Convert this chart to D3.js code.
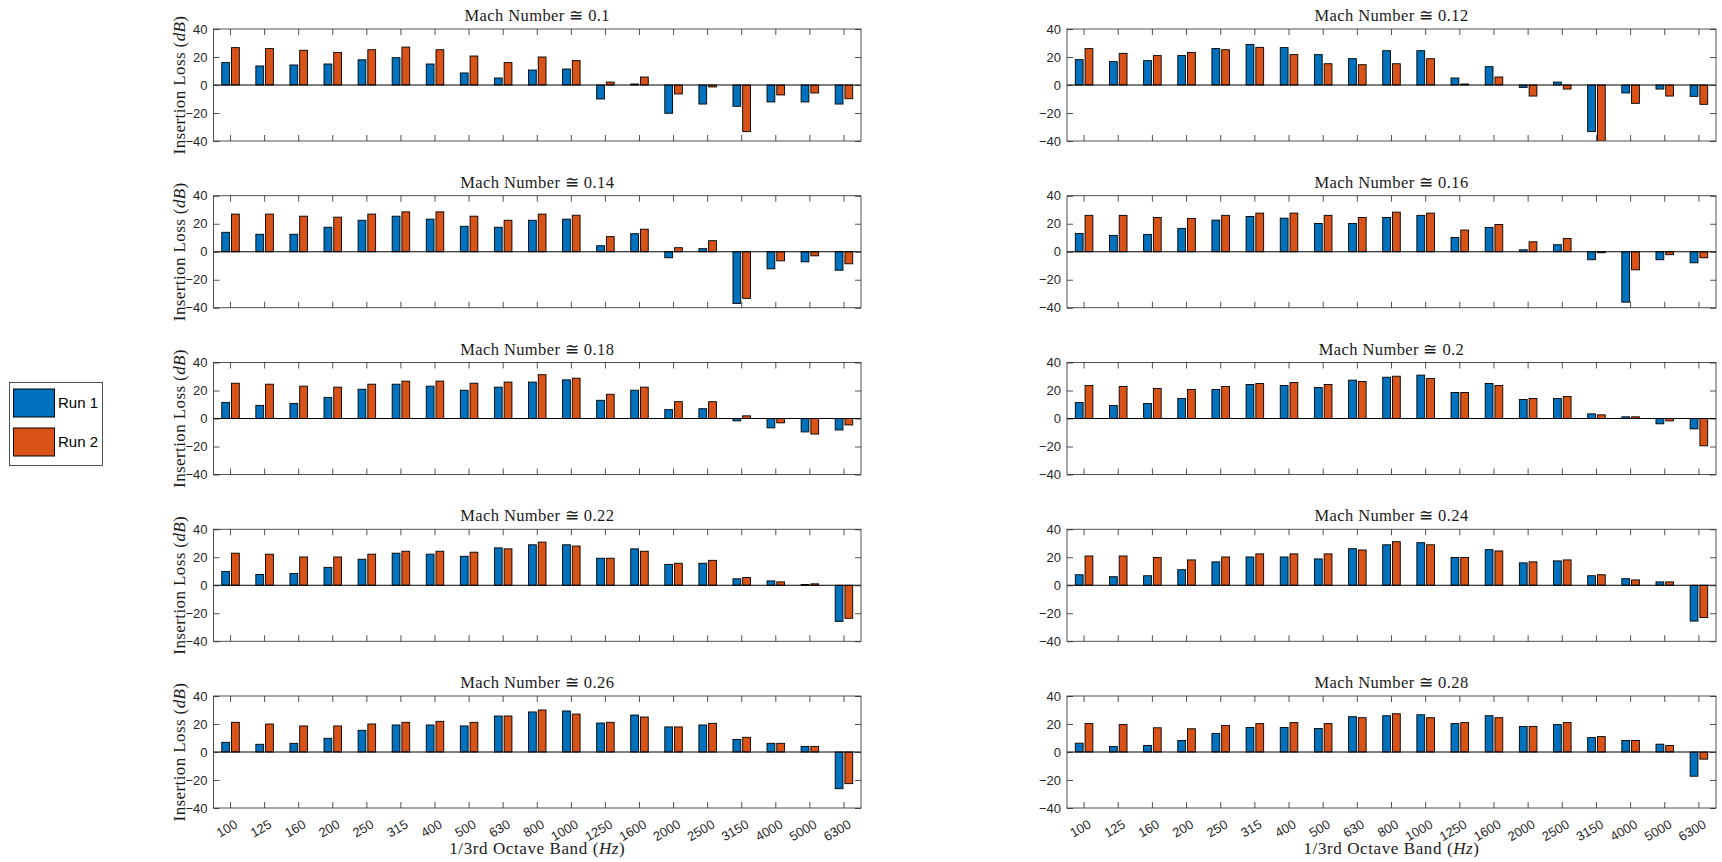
<!DOCTYPE html>
<html>
<head>
<meta charset="utf-8">
<script src="https://cdn.jsdelivr.net/npm/d3@7"></script>
<style>
  html, body { margin: 0; padding: 0; background: #fff; }
  svg { display: block; }
</style>
</head>
<body>
<script>
// 1/3-octave band centre frequencies (Hz)
const bands = ["100","125","160","200","250","315","400","500","630","800",
               "1000","1250","1600","2000","2500","3150","4000","5000","6300"];

// Mach number of each test condition, one panel each
const machNumbers = ["0.1","0.12","0.14","0.16","0.18","0.2","0.22","0.24","0.26","0.28"];

const seriesNames = ["Run 1", "Run 2"];
const yTicks = [-40, -20, 0, 20, 40];

// Insertion loss (dB), Run 1, one row per Mach number
const run1 = [
  [16.0, 13.6, 14.3, 15.0, 18.0, 19.5, 15.0, 8.6, 5.0, 10.7, 11.4, -10.0, 0.7, -20.2, -13.6, -15.2, -12.1, -12.1, -13.6],
  [18.1, 16.7, 17.4, 21.0, 26.0, 29.0, 26.7, 21.7, 18.8, 24.5, 24.5, 5.0, 13.1, -1.7, 2.1, -33.3, -5.7, -2.9, -8.1],
  [13.9, 12.5, 12.5, 17.5, 22.5, 25.4, 23.3, 18.2, 17.5, 22.5, 23.3, 4.3, 12.9, -4.3, 2.2, -36.9, -12.2, -7.2, -13.2],
  [13.1, 11.7, 12.4, 16.7, 22.6, 25.2, 24.0, 20.2, 20.2, 24.5, 26.0, 10.2, 17.4, 1.4, 5.0, -5.7, -36.0, -5.7, -7.9],
  [11.5, 9.4, 10.8, 15.1, 20.9, 24.5, 23.1, 20.2, 22.4, 26.0, 27.6, 13.0, 20.2, 6.3, 7.0, -1.7, -6.7, -9.6, -8.2],
  [11.4, 9.3, 10.7, 14.3, 20.7, 24.3, 23.6, 22.1, 27.4, 29.5, 31.0, 18.6, 25.0, 13.6, 14.3, 3.3, 1.2, -3.8, -7.4],
  [9.9, 7.7, 8.4, 12.8, 18.6, 22.9, 22.2, 20.7, 26.7, 28.9, 28.9, 19.3, 26.0, 14.9, 15.7, 4.6, 3.1, 0.5, -25.8],
  [7.5, 6.1, 6.8, 11.1, 16.7, 20.2, 20.2, 18.8, 26.1, 28.9, 30.4, 19.8, 25.4, 16.0, 17.4, 6.8, 4.7, 2.4, -25.6],
  [6.9, 5.5, 6.2, 9.8, 15.5, 19.3, 19.3, 18.6, 25.7, 28.6, 29.3, 20.7, 26.4, 17.9, 19.3, 9.0, 6.2, 4.0, -26.2],
  [6.3, 4.0, 4.7, 8.2, 13.3, 17.5, 17.5, 16.8, 25.2, 25.9, 26.6, 20.3, 25.9, 18.2, 19.6, 10.3, 8.2, 5.6, -17.3]
];

// Insertion loss (dB), Run 2, one row per Mach number
const run2 = [
  [26.7, 26.0, 24.8, 23.3, 25.2, 27.1, 25.2, 20.7, 16.0, 20.0, 17.4, 2.1, 5.7, -6.4, -1.4, -33.3, -7.1, -5.7, -9.8],
  [26.0, 22.6, 21.0, 23.3, 25.2, 26.9, 21.7, 15.2, 14.5, 15.2, 18.8, 0.7, 5.7, -7.9, -2.9, -42.0, -13.1, -7.9, -13.8],
  [26.9, 26.9, 25.4, 24.7, 26.9, 28.5, 28.5, 25.4, 22.5, 26.9, 26.1, 10.8, 16.1, 2.9, 7.9, -33.3, -6.5, -2.9, -8.6],
  [26.0, 26.0, 24.5, 23.8, 26.0, 27.6, 27.6, 26.0, 24.5, 28.3, 27.6, 15.5, 19.5, 7.1, 9.5, -0.7, -12.9, -2.1, -4.3],
  [25.2, 24.5, 23.1, 22.4, 24.5, 26.7, 26.7, 25.2, 26.0, 31.3, 28.8, 17.3, 22.4, 12.0, 12.0, 1.9, -3.1, -11.1, -4.6],
  [23.6, 22.9, 21.4, 20.7, 22.9, 25.0, 25.7, 24.3, 26.4, 30.2, 28.6, 18.6, 23.6, 14.3, 15.7, 2.6, 1.2, -1.7, -19.5],
  [22.9, 22.2, 20.2, 20.2, 22.2, 24.3, 24.3, 23.6, 26.0, 30.8, 28.0, 19.3, 24.3, 15.7, 17.8, 5.5, 2.4, 1.0, -23.6],
  [20.9, 20.9, 19.8, 18.1, 20.2, 22.4, 22.4, 22.4, 25.2, 31.1, 28.9, 19.8, 24.5, 16.7, 18.1, 7.5, 3.8, 2.4, -23.1],
  [21.2, 20.0, 18.6, 18.6, 20.0, 21.2, 21.9, 21.2, 25.7, 30.0, 27.1, 21.2, 25.0, 17.9, 20.5, 10.5, 6.2, 4.0, -22.6],
  [20.3, 19.6, 17.3, 16.6, 18.9, 20.3, 21.0, 20.3, 24.5, 27.3, 24.5, 21.0, 24.5, 18.2, 21.0, 11.0, 8.2, 4.7, -5.1]
];

const colors = { "Run 1": "#0072BD", "Run 2": "#D95319" };

const W = 1722, H = 862;
const colExtent = [[213.5, 861], [1067, 1716]];
const firstTop = 29, rowStep = 166.75, plotH = 112;
const axisColor = "#262626";
const sans = "'Liberation Sans', Arial, sans-serif";
const serif = "'Liberation Serif', 'Times New Roman', serif";

const svg = d3.select("body").append("svg")
  .attr("width", W).attr("height", H)
  .style("background", "#fff");

machNumbers.forEach((mach, i) => {
  const col = i % 2, row = Math.floor(i / 2);
  const [x0, x1] = colExtent[col];
  const top = firstTop + row * rowStep;
  const bottom = top + plotH;
  const isBottomRow = row === 4;

  const x = d3.scaleBand().domain(bands).range([x0, x1]);
  const u = x.bandwidth();
  const sub = d3.scaleBand().domain(seriesNames)
    .range([-0.2857 * u, 0.2857 * u]).paddingInner(0.2).paddingOuter(0.1);
  const y = d3.scaleLinear().domain([-40, 40]).range([bottom, top]);

  const g = svg.append("g");

  // clip region for bars
  const clipId = "clip" + i;
  g.append("clipPath").attr("id", clipId)
    .append("rect").attr("x", x0).attr("y", top).attr("width", x1 - x0).attr("height", plotH);

  // bars
  const rows = bands.map((b, k) => ({ band: b, "Run 1": run1[i][k], "Run 2": run2[i][k] }));
  const barG = g.append("g").attr("clip-path", `url(#${clipId})`);
  seriesNames.forEach(s => {
    barG.selectAll(null).data(rows).enter().append("rect")
      .attr("x", d => x(d.band) + u / 2 + sub(s))
      .attr("width", sub.bandwidth())
      .attr("y", d => y(Math.max(0, d[s])))
      .attr("height", d => Math.abs(y(d[s]) - y(0)))
      .attr("fill", colors[s])
      .attr("stroke", "#000")
      .attr("stroke-width", 0.9);
  });

  // zero baseline
  g.append("line")
    .attr("x1", x0).attr("x2", x1).attr("y1", y(0)).attr("y2", y(0))
    .attr("stroke", "#000").attr("stroke-width", 1);

  // axes with inward ticks
  const yAxis = g.append("g").attr("transform", `translate(${x0},0)`)
    .call(d3.axisLeft(y).tickValues(yTicks).tickSizeInner(-6).tickSizeOuter(0).tickPadding(6));
  g.append("g").attr("transform", `translate(${x1},0)`)
    .call(d3.axisRight(y).tickValues(yTicks).tickSizeInner(-6).tickSizeOuter(0).tickFormat(""));
  g.append("g").attr("transform", `translate(0,${top})`)
    .call(d3.axisTop(x).tickSizeInner(-6).tickSizeOuter(0).tickFormat(""));
  const xAxis = g.append("g").attr("transform", `translate(0,${bottom})`)
    .call(d3.axisBottom(x).tickSizeInner(-6).tickSizeOuter(0)
      .tickFormat(isBottomRow ? (d => d) : ""));

  g.selectAll(".domain").remove();
  g.selectAll(".tick line").attr("stroke", axisColor).attr("stroke-width", 0.8);
  yAxis.selectAll("text")
    .attr("font-family", sans).attr("font-size", 13).attr("fill", axisColor);

  if (isBottomRow) {
    xAxis.selectAll("text")
      .attr("font-family", sans).attr("font-size", 13).attr("fill", axisColor)
      .attr("text-anchor", "end")
      .attr("x", 0).attr("y", 0).attr("dy", 0)
      .attr("transform", "translate(8,19) rotate(-30)");
  }

  // axes frame
  g.append("rect")
    .attr("x", x0).attr("y", top).attr("width", x1 - x0).attr("height", plotH)
    .attr("fill", "none").attr("stroke", axisColor).attr("stroke-width", 0.8);

  // panel title
  g.append("text")
    .attr("x", (x0 + x1) / 2).attr("y", top - 8)
    .attr("text-anchor", "middle")
    .attr("font-family", serif).attr("font-size", 16.5).attr("letter-spacing", 0.4)
    .attr("fill", "#1a1a1a")
    .text(`Mach Number \u2245 ${mach}`);

  // y label on the left column
  if (col === 0) {
    const t = g.append("text")
      .attr("transform", `translate(185,${(top + bottom) / 2}) rotate(-90)`)
      .attr("text-anchor", "middle")
      .attr("font-family", serif).attr("font-size", 17).attr("letter-spacing", 0.4)
      .attr("fill", "#1a1a1a");
    t.append("tspan").text("Insertion Loss (");
    t.append("tspan").attr("font-style", "italic").text("dB");
    t.append("tspan").text(")");
  }

  // x label under the bottom row
  if (isBottomRow) {
    const t = g.append("text")
      .attr("x", (x0 + x1) / 2).attr("y", 854)
      .attr("text-anchor", "middle")
      .attr("font-family", serif).attr("font-size", 17).attr("letter-spacing", 0.6)
      .attr("fill", "#1a1a1a");
    t.append("tspan").text("1/3rd Octave Band (");
    t.append("tspan").attr("font-style", "italic").text("Hz");
    t.append("tspan").text(")");
  }
});

// legend
const legend = svg.append("g");
legend.append("rect")
  .attr("x", 9.5).attr("y", 382.5).attr("width", 93).attr("height", 83)
  .attr("fill", "#fff").attr("stroke", axisColor).attr("stroke-width", 0.8);
seriesNames.forEach((s, k) => {
  const yy = 389 + k * 39;
  legend.append("rect")
    .attr("x", 13.5).attr("y", yy).attr("width", 41).attr("height", 28)
    .attr("fill", colors[s]).attr("stroke", "#000").attr("stroke-width", 1);
  legend.append("text")
    .attr("x", 58).attr("y", yy + 14).attr("dy", "0.35em")
    .attr("font-family", sans).attr("font-size", 15).attr("fill", "#000")
    .text(s);
});
</script>
</body>
</html>
